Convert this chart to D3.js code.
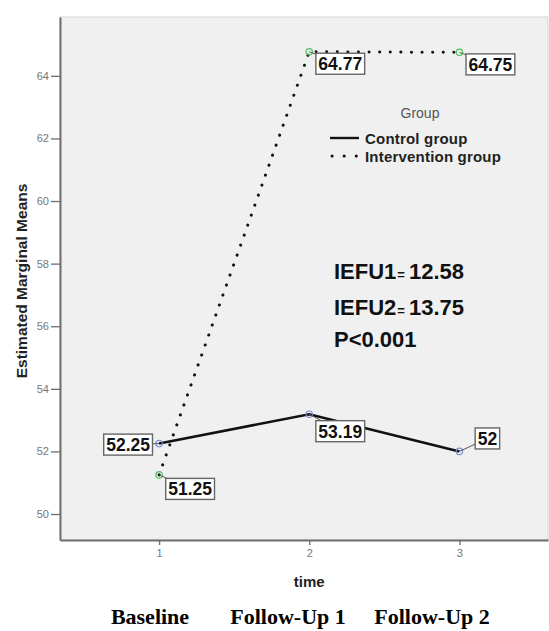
<!DOCTYPE html>
<html>
<head>
<meta charset="utf-8">
<script src="https://cdn.jsdelivr.net/npm/d3@7"></script>
<style>
  body { margin: 0; background: #fff; }
  text { font-family: Arial, "Liberation Sans", sans-serif; }
</style>
</head>
<body>
<div id="chart"></div>
<script>
// data
const times = [1, 2, 3];
const controlMeans = [52.25, 53.19, 52];
const interventionMeans = [51.25, 64.77, 64.75];
const yTicks = [50, 52, 54, 56, 58, 60, 62, 64];
const phaseLabels = ['Baseline', 'Follow-Up 1', 'Follow-Up 2'];
const statLines = [['IEFU1', '12.58'], ['IEFU2', '13.75'], ['P<0.001', null]];

// label box offsets (dx, dy of box centre from point)
const controlOffsets = [[-31, 1], [31, 17], [28, -13]];
const interventionOffsets = [[31, 14], [31, 12], [31, 12]];

const chart = (() => {
    const W = 549, H = 631;
    const PLOT = {left: 60, top: 17, right: 548, bottom: 540};

    const draw = () => {
        const svg = d3.select('#chart').append('svg')
            .attr('width', W)
            .attr('height', H);

        const x = d3.scaleLinear().domain([0.34, 3.59]).range([PLOT.left, PLOT.right]);
        const y = d3.scaleLinear().domain([49.17, 65.88]).range([PLOT.bottom, PLOT.top]);

        // plot background
        svg.append('rect')
            .attr('x', PLOT.left).attr('y', PLOT.top)
            .attr('width', PLOT.right - PLOT.left)
            .attr('height', PLOT.bottom - PLOT.top)
            .attr('fill', '#f0f0f0')
            .attr('stroke', '#d6d6d6')
            .attr('stroke-width', 1);

        // axes
        const yAxis = svg.append('g')
            .attr('transform', `translate(${PLOT.left},0)`)
            .call(d3.axisLeft(y).tickValues(yTicks).tickSize(9).tickSizeOuter(0).tickPadding(2));
        const xAxis = svg.append('g')
            .attr('transform', `translate(0,${PLOT.bottom})`)
            .call(d3.axisBottom(x).tickValues(times).tickFormat(d3.format('d')).tickSize(5).tickSizeOuter(0).tickPadding(4));

        [yAxis, xAxis].forEach(g => {
            g.select('.domain').attr('stroke', '#6e6e6e').attr('stroke-width', 2);
            g.selectAll('.tick line').attr('stroke', '#6e6e6e').attr('stroke-width', 1.3);
            g.selectAll('.tick text')
                .attr('fill', '#777')
                .style('font-size', '11px');
        });

        svg.append('text')
            .attr('transform', `translate(27,281) rotate(-90)`)
            .attr('text-anchor', 'middle')
            .style('font-size', '15.5px')
            .style('font-weight', 'bold')
            .attr('fill', '#222')
            .text('Estimated Marginal Means');

        svg.append('text')
            .attr('x', x(2)).attr('y', 587)
            .attr('text-anchor', 'middle')
            .style('font-size', '15px')
            .style('font-weight', 'bold')
            .attr('fill', '#222')
            .text('time');

        // lines
        const line = d3.line().x((d, i) => x(times[i])).y(d => y(d));

        svg.append('path')
            .datum(interventionMeans)
            .attr('d', line)
            .attr('fill', 'none')
            .attr('stroke', '#111')
            .attr('stroke-width', 3)
            .attr('stroke-linecap', 'round')
            .attr('stroke-dasharray', '0.1,10.5');

        svg.append('path')
            .datum(controlMeans)
            .attr('d', line)
            .attr('fill', 'none')
            .attr('stroke', '#111')
            .attr('stroke-width', 2.5);

        // markers
        const markers = (vals, color) => {
            svg.append('g').selectAll('circle')
                .data(vals)
                .enter()
                .append('circle')
                .attr('cx', (d, i) => x(times[i]))
                .attr('cy', d => y(d))
                .attr('r', 3.2)
                .attr('fill', 'none')
                .attr('stroke', color)
                .attr('stroke-width', 1.2);
        };
        markers(controlMeans, '#7f8fd6');
        markers(interventionMeans, '#4fc25c');

        // value labels
        const labels = (vals, offs) => {
            const g = svg.append('g');
            vals.forEach((v, i) => {
                const px = x(times[i]), py = y(v);
                const cx = px + offs[i][0], cy = py + offs[i][1];
                const txt = String(v);
                g.append('line')
                    .attr('x1', px).attr('y1', py)
                    .attr('x2', cx).attr('y2', cy)
                    .attr('stroke', '#555').attr('stroke-width', 1);
                const box = g.append('rect');
                const t = g.append('text')
                    .attr('x', cx).attr('y', cy + 6.5)
                    .attr('text-anchor', 'middle')
                    .style('font-size', '17.5px')
                    .style('font-weight', 'bold')
                    .attr('fill', '#111')
                    .text(txt);
                const bw = t.node().getComputedTextLength() + 5, bh = 21;
                box.attr('x', cx - bw / 2).attr('y', cy - bh / 2)
                    .attr('width', bw).attr('height', bh)
                    .attr('fill', '#fff')
                    .attr('stroke', '#666')
                    .attr('stroke-width', 1.4);
            });
        };
        labels(controlMeans, controlOffsets);
        labels(interventionMeans, interventionOffsets);

        // legend
        const leg = svg.append('g');
        leg.append('text')
            .attr('x', 420).attr('y', 118)
            .attr('text-anchor', 'middle')
            .style('font-size', '14px')
            .attr('fill', '#555')
            .text('Group');
        [['Control group', null], ['Intervention group', '0.1,12']].forEach((d, i) => {
            const ly = 138 + i * 18;
            leg.append('line')
                .attr('x1', d[1] ? 332 : 330).attr('x2', 359)
                .attr('y1', ly).attr('y2', ly)
                .attr('stroke', '#111')
                .attr('stroke-width', d[1] ? 3 : 2.4)
                .attr('stroke-linecap', d[1] ? 'round' : 'butt')
                .attr('stroke-dasharray', d[1]);
            leg.append('text')
                .attr('x', 365).attr('y', ly + 6)
                .style('font-size', '15px')
                .style('font-weight', 'bold')
                .style('letter-spacing', '0.2px')
                .attr('fill', '#222')
                .text(d[0]);
        });

        // statistics annotation
        const baselines = [279, 315, 347];
        statLines.forEach((d, i) => {
            const t = svg.append('text')
                .attr('x', 334).attr('y', baselines[i])
                .style('font-size', '22px')
                .style('font-weight', 'bold')
                .attr('fill', '#111');
            t.append('tspan').text(d[0]);
            if (d[1]) {
                t.append('tspan').style('font-size', '13px').attr('dx', 1).text('=');
                t.append('tspan').attr('dx', 4).text(d[1]);
            }
        });

        // phase labels
        const phaseX = [150, 288, 432];
        phaseLabels.forEach((p, i) => {
            svg.append('text')
                .attr('x', phaseX[i]).attr('y', 624)
                .attr('text-anchor', 'middle')
                .style('font-family', '"Liberation Serif", "Times New Roman", serif')
                .style('font-size', '22px')
                .style('font-weight', 'bold')
                .attr('fill', '#000')
                .text(p);
        });
    };

    return { draw };
})();

chart.draw();
</script>
</body>
</html>
